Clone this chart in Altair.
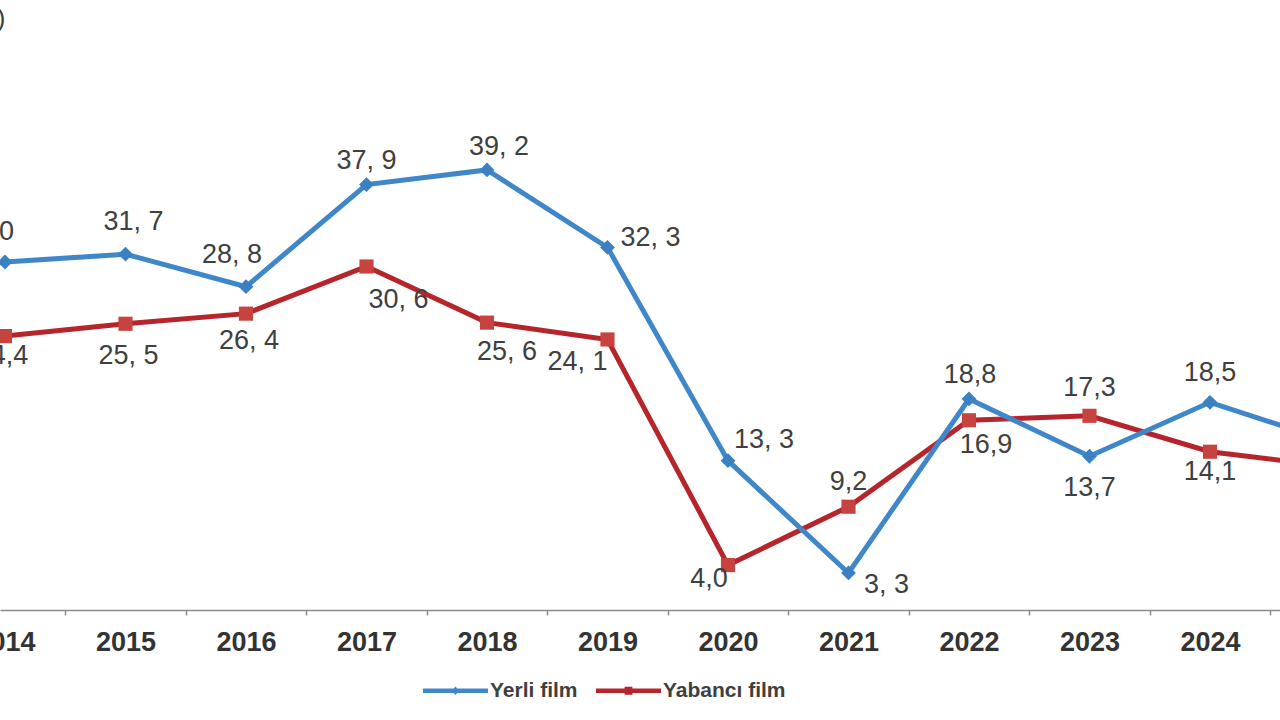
import altair as alt
import pandas as pd

# Cinema audience share by film origin (%)
years = list(range(2014, 2026))
yerli = [31.0, 31.7, 28.8, 37.9, 39.2, 32.3, 13.3, 3.3, 18.8, 13.7, 18.5, 15.0]
yabanci = [24.4, 25.5, 26.4, 30.6, 25.6, 24.1, 4.0, 9.2, 16.9, 17.3, 14.1, 12.8]
yerli_labels = ["31, 0", "31, 7", "28, 8", "37, 9", "39, 2", "32, 3",
                "13, 3", "3, 3", "18,8", "13,7", "18,5", "15,0"]
yabanci_labels = ["24,4", "25, 5", "26, 4", "30, 6", "25, 6", "24, 1",
                  "4,0", "9,2", "16,9", "17,3", "14,1", "12,8"]
series_names = ["Yerli film", "Yabancı film"]

# label placement around each marker, in pixels
yerli_dx = [-21, 8, -14, 0, 12, 43, 36, 38, 1, 0, 0, 0]
yerli_dy = [-30, -32, -32, -24, -23, -9, -21, 12, -24, 32, -29, -28]
yabanci_dx = [-3, 3, 3, 32, 20, -30, -19, 0, 17, 0, 0, 0]
yabanci_dy = [20, 32, 27, 34, 29, 23, 14, -25, 25, -28, 20, 22]

BLUE = "#3F87C9"
BLUE_MARK = "#3A80C2"
RED = "#B5252B"
RED_MARK = "#C64340"
TEXT = "#404040"
FONT = "Liberation Sans"

WIDTH, HEIGHT = 1280, 610
X_DOMAIN = [2013.9585, 2024.581]
Y_DOMAIN = [0, 54.34]
PX_PER_YEAR = WIDTH / (X_DOMAIN[1] - X_DOMAIN[0])
PX_PER_UNIT = HEIGHT / (Y_DOMAIN[1] - Y_DOMAIN[0])

df = pd.concat([
    pd.DataFrame({"year": years, "value": yerli, "label": yerli_labels,
                  "dx": yerli_dx, "dy": yerli_dy, "series": series_names[0]}),
    pd.DataFrame({"year": years, "value": yabanci, "label": yabanci_labels,
                  "dx": yabanci_dx, "dy": yabanci_dy, "series": series_names[1]}),
], ignore_index=True)

x_scale = alt.Scale(domain=X_DOMAIN, nice=False, zero=False)
y_scale = alt.Scale(domain=Y_DOMAIN, nice=False)

x_axis = alt.Axis(values=years, format="d", tickOffset=60.25, labelOffset=-60.25,
                  title=None, grid=False)
y_axis = alt.Axis(title="(%)", labels=False, ticks=False, domain=False, grid=False,
                  titleAngle=0, titleX=5, titleY=18, titleAlign="right",
                  titleBaseline="middle", titleFontSize=26, titleFontWeight="normal",
                  titleColor=TEXT, titleFont=FONT)

x_enc = alt.X("year:Q", scale=x_scale, axis=x_axis)
y_enc = alt.Y("value:Q", scale=y_scale, axis=y_axis)

base = alt.Chart(df)


def series_layers(name, line_color, mark_color, shape, size):
    sub = base.transform_filter(alt.datum.series == name)
    line = sub.mark_line(color=line_color, strokeWidth=5, clip=True).encode(x=x_enc, y=y_enc)
    pts = sub.mark_point(shape=shape, filled=True, color=mark_color, size=size,
                         opacity=1, clip=True).encode(x=x_enc, y=y_enc)
    txt = sub.transform_calculate(
        lx=f"datum.year + datum.dx / {PX_PER_YEAR}",
        ly=f"datum.value - datum.dy / {PX_PER_UNIT}",
    ).mark_text(font=FONT, fontSize=27, color=TEXT, clip=True).encode(
        x=alt.X("lx:Q", scale=x_scale, axis=x_axis),
        y=alt.Y("ly:Q", scale=y_scale, axis=y_axis),
        text="label:N",
    )
    return [line, pts, txt]


# legend symbols: a bar with the series marker in its centre
sym_yerli = "M-1,-0.07L1,-0.07L1,0.07L-1,0.07Z M0,-0.13L0.11,0L0,0.13L-0.11,0Z"
sym_yabanci = "M-1,-0.07L1,-0.07L1,0.07L-1,0.07Z M-0.12,-0.12L0.12,-0.12L0.12,0.12L-0.12,0.12Z"

legend = alt.Legend(
    title=None, orient="none", legendX=423, legendY=658, direction="horizontal",
    labelFont=FONT, labelFontSize=21, labelFontWeight="bold", labelColor=TEXT,
    symbolSize=4225, symbolStrokeWidth=0, labelOffset=2, columnPadding=18,
)
legend_layer = base.transform_filter("false").mark_point(filled=True, opacity=1).encode(
    color=alt.Color("series:N", scale=alt.Scale(domain=series_names, range=[BLUE, RED]),
                    legend=legend),
    shape=alt.Shape("series:N", scale=alt.Scale(domain=series_names,
                                                range=[sym_yerli, sym_yabanci]),
                    legend=legend),
)

layers = (series_layers(series_names[1], RED, RED_MARK, "square", 200)
          + series_layers(series_names[0], BLUE, BLUE_MARK, "diamond", 220)
          + [legend_layer])

chart = alt.layer(*layers).properties(
    width=WIDTH, height=HEIGHT,
    autosize=alt.AutoSizeParams(type="none"),
    padding={"left": 0, "top": 0, "right": 0, "bottom": 110},
    background="white",
).configure_view(stroke=None).configure_axisX(
    domainColor="#8C8C8C", domainWidth=1.5, tickColor="#8C8C8C", tickSize=5,
    tickWidth=1.5, labelFont=FONT, labelFontSize=27, labelFontWeight="bold",
    labelColor="#333333", labelPadding=14,
)

chart.save("out.html", embed_options={"renderer": "svg", "actions": False})
